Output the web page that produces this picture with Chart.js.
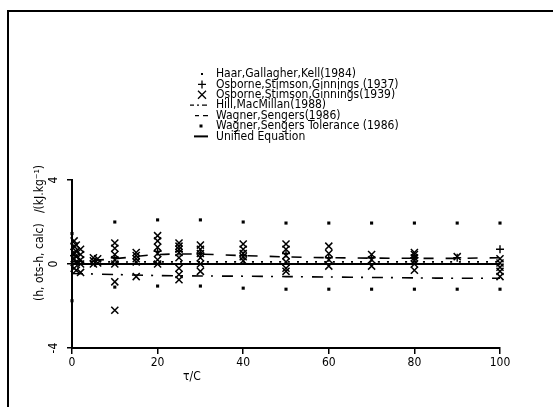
<!DOCTYPE html>
<html>
<head>
<meta charset="utf-8">
<script src="https://cdn.jsdelivr.net/npm/chart.js@4.4.0/dist/chart.umd.min.js"></script>
<style>
  html, body { margin: 0; padding: 0; background: #fff; overflow: hidden; }
  #wrap { width: 553px; height: 407px; }
</style>
</head>
<body>
<div id="wrap"><canvas id="c" width="553" height="407"></canvas></div>
<script>
// ---------- data ----------
const xTicks = [0, 20, 40, 60, 80, 100];
const yTicks = [-4, 0, 4];

// smooth curves (t / C)
const curveX = [0, 10, 20, 30, 40, 50, 60, 70, 80, 90, 100];
const unifiedY = [0, 0, 0, 0, 0, 0, 0, 0, 0, 0, 0];
const haarY = [0.12, 0.1, 0.1, 0.1, 0.1, 0.1, 0.1, 0.1, 0.1, 0.1, 0.1];
const wagnerY = [0.1, 0.25, 0.45, 0.47, 0.4, 0.34, 0.3, 0.28, 0.27, 0.27, 0.3];
const hillY = [-0.45, -0.5, -0.55, -0.57, -0.58, -0.6, -0.62, -0.64, -0.66, -0.68, -0.68];
const tolUpperY = [1.45, 2.0, 2.1, 2.1, 2.0, 1.95, 1.95, 1.95, 1.95, 1.95, 1.95];
const tolLowerY = [-1.75, -1.1, -1.05, -1.05, -1.15, -1.2, -1.2, -1.2, -1.2, -1.2, -1.2];

// Osborne, Stimson, Ginnings (1939) - crosses
const osb39X = [0.5, 0.5, 0.5, 0.5, 0.5, 1, 1, 1, 1, 1, 2, 2, 2, 2, 2,
  5, 5, 5, 6, 6,
  10, 10, 10, 10, 10, 10, 10,
  15, 15, 15, 15, 15,
  20, 20, 20, 20, 20, 20,
  25, 25, 25, 25, 25, 25, 25, 25,
  30, 30, 30, 30, 30, 30,
  40, 40, 40, 40, 40,
  50, 50, 50, 50, 50, 50,
  60, 60, 60, 60,
  70, 70, 70,
  80, 80, 80, 80, 80, 80,
  90,
  100, 100, 100, 100, 100];
const osb39Y = [1.1, 0.85, 0.55, 0.25, -0.2, 0.9, 0.6, 0.35, 0.1, -0.3, 0.7, 0.45, 0.2, 0, -0.4,
  0.3, 0.15, 0, 0.25, 0.05,
  1.0, 0.75, 0.45, 0.2, 0, -0.85, -2.2,
  0.55, 0.4, 0.25, 0.1, -0.6,
  1.35, 1.1, 0.8, 0.5, 0.2, 0,
  1.0, 0.85, 0.7, 0.55, 0.3, -0.2, -0.5, -0.75,
  0.9, 0.7, 0.5, 0.3, 0, -0.35,
  0.95, 0.7, 0.5, 0.35, 0.15,
  0.95, 0.7, 0.4, 0.1, -0.2, -0.35,
  0.85, 0.5, 0.2, -0.1,
  0.45, 0.2, -0.1,
  0.55, 0.45, 0.3, 0.15, 0, -0.3,
  0.35,
  0.25, 0.05, -0.15, -0.35, -0.6];

// Osborne, Stimson, Ginnings (1937) - plus signs
const osb37X = [0.5, 10, 20, 25, 30, 40, 50, 60, 70, 80, 90, 100];
const osb37Y = [0.4, 0.3, 0.6, 0.6, 0.5, 0.4, 0.5, 0.3, 0.3, 0.3, 0.3, 0.7];

const labels = [
  'Haar,Gallagher,Kell(1984)',
  'Osborne,Stimson,Ginnings (1937)',
  'Osborne,Stimson,Ginnings(1939)',
  'Hill,MacMillan(1988)',
  'Wagner,Sengers(1986)',
  'Wagner,Sengers Tolerance (1986)',
  'Unified Equation'
];

const FONT = '"DejaVu Sans Condensed", "DejaVu Sans", sans-serif';
const pts = (xs, ys) => xs.map((x, i) => ({ x: x, y: ys[i] }));

// ---------- extra drawing: frame, rotated y labels, titles, legend ----------
const decor = {
  id: 'decor',
  beforeDraw(chart) {
    const c = chart.ctx;
    c.save();
    c.fillStyle = '#fff';
    c.fillRect(0, 0, chart.width, chart.height);
    c.strokeStyle = '#000';
    c.lineWidth = 2;
    c.beginPath();
    c.moveTo(8, 407);
    c.lineTo(8, 11);
    c.lineTo(553, 11);
    c.stroke();
    c.restore();
  },
  afterDraw(chart) {
    const c = chart.ctx;
    const ys = chart.scales.y, xs = chart.scales.x;
    c.save();
    c.fillStyle = '#000';
    c.font = '12px ' + FONT;
    c.textAlign = 'center';
    c.textBaseline = 'middle';
    // rotated y tick labels
    yTicks.forEach(v => {
      c.save();
      c.translate(54, ys.getPixelForValue(v));
      c.rotate(-Math.PI / 2);
      c.fillText(String(v), 0, 0);
      c.restore();
    });
    // y title
    c.save();
    c.translate(40, 233);
    c.rotate(-Math.PI / 2);
    c.fillText('(h, ots-h, calc)   /(kJ.kg\u207B\u00B9)', 0, 0);
    c.restore();
    // x title
    c.fillText('\u03C4/C', xs.getPixelForValue(28), 377);

    // legend
    const lx = 216, ly = 74, step = 10.4;
    c.textAlign = 'left';
    labels.forEach((t, i) => c.fillText(t, lx, ly + i * step));
    c.strokeStyle = '#000';
    c.lineWidth = 1.3;
    // dot
    c.fillRect(201, ly - 1, 2, 2);
    // plus
    let y = ly + step;
    c.beginPath(); c.moveTo(198, y); c.lineTo(206, y); c.moveTo(202, y - 4); c.lineTo(202, y + 4); c.stroke();
    // cross
    y = ly + 2 * step;
    c.beginPath(); c.moveTo(198, y - 4); c.lineTo(206, y + 4); c.moveTo(206, y - 4); c.lineTo(198, y + 4); c.stroke();
    // dash dot
    y = ly + 3 * step;
    c.beginPath(); c.moveTo(190, y); c.lineTo(194, y); c.moveTo(197, y); c.lineTo(199, y); c.moveTo(202, y); c.lineTo(207, y); c.stroke();
    // dashed
    y = ly + 4 * step;
    c.beginPath(); c.moveTo(195, y); c.lineTo(199, y); c.moveTo(203, y); c.lineTo(208, y); c.stroke();
    // square
    y = ly + 5 * step;
    c.fillRect(199.5, y - 1.5, 3, 3);
    // solid
    y = ly + 6 * step;
    c.lineWidth = 2;
    c.beginPath(); c.moveTo(194, y); c.lineTo(208, y); c.stroke();
    c.restore();
  }
};

new Chart(document.getElementById('c'), {
  type: 'scatter',
  data: {
    datasets: [
      {
        label: labels[6], type: 'line', data: pts(curveX, unifiedY),
        borderColor: '#000', borderWidth: 2, pointRadius: 0, tension: 0
      },
      {
        label: labels[0], type: 'line', data: pts(curveX, haarY),
        borderColor: '#000', borderWidth: 1.6, borderDash: [2, 7], pointRadius: 0, tension: 0.3
      },
      {
        label: labels[4], type: 'line', data: pts(curveX, wagnerY),
        borderColor: '#000', borderWidth: 1.6, borderDash: [10, 12], pointRadius: 0, tension: 0.3
      },
      {
        label: labels[3], type: 'line', data: pts(curveX, hillY),
        borderColor: '#000', borderWidth: 1.6, borderDash: [11, 8, 2, 9], pointRadius: 0, tension: 0.3
      },
      {
        label: labels[5], data: pts(curveX, tolUpperY),
        pointStyle: 'rect', pointRadius: 2.2, backgroundColor: '#000', borderColor: '#000', borderWidth: 0
      },
      {
        label: labels[5] + ' low', data: pts(curveX, tolLowerY),
        pointStyle: 'rect', pointRadius: 2.2, backgroundColor: '#000', borderColor: '#000', borderWidth: 0
      },
      {
        label: labels[2], data: pts(osb39X, osb39Y),
        pointStyle: 'crossRot', pointRadius: 5, borderColor: '#000', borderWidth: 1.5
      },
      {
        label: labels[1], data: pts(osb37X, osb37Y),
        pointStyle: 'cross', pointRadius: 4, borderColor: '#000', borderWidth: 1.4
      }
    ]
  },
  options: {
    responsive: false,
    animation: false,
    clip: false,
    layout: { padding: { left: 0, right: 53, top: 180, bottom: 0 } },
    plugins: { legend: { display: false }, tooltip: { enabled: false } },
    scales: {
      x: {
        type: 'linear', min: 0, max: 100,
        afterFit: s => { s.height = 59; },
        border: { color: '#000', width: 2 },
        grid: { drawOnChartArea: false, drawTicks: true, tickLength: 6, color: '#000', lineWidth: 1.5 },
        ticks: { stepSize: 20, color: '#000', font: { family: FONT, size: 12 }, padding: 2, maxRotation: 0 }
      },
      y: {
        type: 'linear', min: -4, max: 4,
        afterFit: s => { s.width = 72; },
        border: { color: '#000', width: 2 },
        grid: { drawOnChartArea: false, drawTicks: true, tickLength: 5, color: '#000', lineWidth: 1.5 },
        ticks: { stepSize: 4, color: 'rgba(0,0,0,0)', font: { family: FONT, size: 12 } }
      }
    }
  },
  plugins: [decor]
});
</script>
</body>
</html>
